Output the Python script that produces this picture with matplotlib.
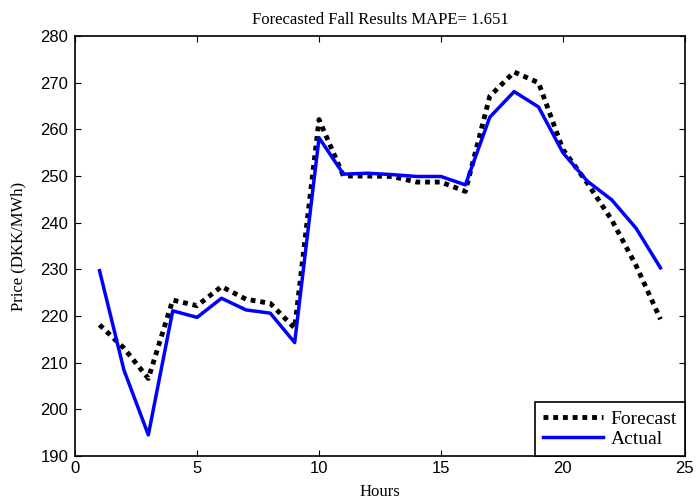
import matplotlib
matplotlib.use("Agg")
import matplotlib.pyplot as plt

# données
hours = list(range(1, 25))
forecast = [218.1, 213.1, 206.6, 223.4, 222.2, 226.3, 223.6, 222.7, 217.4, 262.1,
            250.0, 250.0, 249.9, 248.7, 248.7, 246.7, 267.1, 272.3, 270.0, 255.7,
            248.5, 240.6, 230.8, 219.3]
actual = [229.7, 208.4, 194.5, 221.1, 219.7, 223.8, 221.3, 220.6, 214.3, 258.2,
          250.4, 250.6, 250.3, 249.9, 249.9, 248.1, 262.6, 268.1, 264.8, 255.0,
          248.9, 244.9, 238.8, 230.3]
mape = 1.651

serif = "Liberation Serif"
sans = "Liberation Sans"

fig = plt.figure(figsize=(6.96, 5.01), dpi=100)
ax = fig.add_axes([0.108, 0.090, 0.876, 0.838])

ax.plot(hours, forecast, color="black", linestyle=(0, (1, 1)), linewidth=3.5, label="Forecast")
ax.plot(hours, actual, color="blue", linewidth=2.5, label="Actual")

ax.set_xlim(0, 25)
ax.set_ylim(190, 280)
ax.set_xticks(range(0, 26, 5))
ax.set_yticks(range(190, 281, 10))
ax.tick_params(direction="in", top=True, right=True, labelsize=12, length=4)
ax.tick_params(axis="y", pad=5)
for lab in ax.get_xticklabels() + ax.get_yticklabels():
    lab.set_family(sans)
for s in ax.spines.values():
    s.set_linewidth(1.2)

ax.set_title("Forecasted Fall Results MAPE= %.3f" % mape, family=serif, fontsize=12, pad=9)
ax.set_xlabel("Hours", family=serif, fontsize=12, labelpad=6)
ax.set_ylabel("Price (DKK/MWh)", family=serif, fontsize=12, labelpad=10)

leg = ax.legend(loc="lower right", prop={"family": serif, "size": 14}, fancybox=False,
                framealpha=1, borderaxespad=0, handlelength=3.1, borderpad=0.4,
                labelspacing=0.15, handletextpad=0.4)
leg.get_frame().set_edgecolor("black")
leg.get_frame().set_linewidth(1.2)

fig.savefig("out.png", dpi=100)
